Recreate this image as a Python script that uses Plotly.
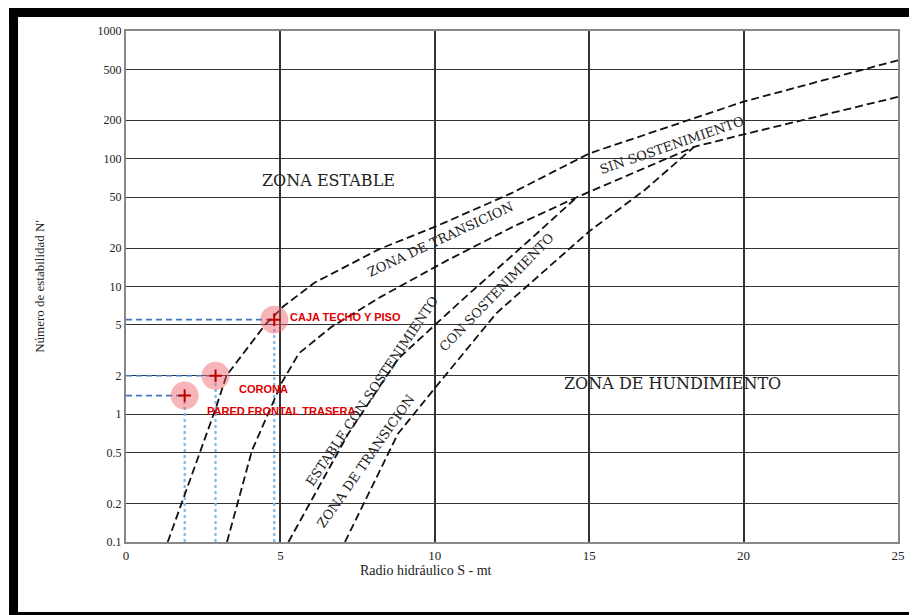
import math
import plotly.graph_objects as go

# ---- data ----
# boundary curves: hydraulic radius S (m) vs stability number N'
curve_a_x = [1.35, 2.9, 3.25, 4.5, 5.1, 6.1, 8.2, 10.1, 12.5, 15.0, 20.0, 25.0]
curve_a_y = [0.1, 1.1, 2.0, 5.0, 7.0, 10.7, 19.6, 30, 54, 110, 280, 590]

curve_b_x = [3.27, 4.08, 5.04, 5.6, 6.64, 8.25, 10.4, 12.55, 14.6, 18.4, 20.0, 25.0]
curve_b_y = [0.1, 0.52, 1.76, 3.0, 4.8, 8.3, 16, 29.5, 50, 124, 155, 305]

curve_c_x = [5.26, 7.19, 8.8, 10.9, 13.06, 14.6]
curve_c_y = [0.1, 0.7, 2.7, 7.9, 23, 50]

curve_d_x = [7.09, 8.8, 10.0, 12.0, 15.0, 16.8, 18.4]
curve_d_y = [0.1, 0.7, 1.6, 6.2, 27, 57, 124]

# evaluated excavation surfaces
point_names = ["CAJA TECHO Y PISO", "CORONA", "PARED FRONTAL TRASERA"]
point_x = [4.8, 2.9, 1.9]
point_y = [5.5, 2.0, 1.4]

y_ticks = [0.1, 0.2, 0.5, 1, 2, 5, 10, 20, 50, 100, 200, 500, 1000]
y_tick_text = ["0.1", "0.2", "0.5", "1", "2", "5", "10", "20", "50", "100", "200", "500", "1000"]
x_ticks = [0, 5, 10, 15, 20, 25]

SERIF = "Liberation Serif"
ZSERIF = "DejaVu Serif"

fig = go.Figure()

# reference dashed lines for each point
for px, py in zip(point_x, point_y):
    fig.add_trace(go.Scatter(x=[0, px], y=[py, py], mode="lines",
                             line=dict(color="#3f78c0", width=1.6, dash="6px,4px"),
                             hoverinfo="skip", showlegend=False))
    fig.add_trace(go.Scatter(x=[px, px], y=[0.1, py], mode="lines",
                             line=dict(color="#7fb8e0", width=2.2, dash="dot"),
                             hoverinfo="skip", showlegend=False))

# boundary curves
for cx, cy in [(curve_a_x, curve_a_y), (curve_b_x, curve_b_y),
               (curve_c_x, curve_c_y), (curve_d_x, curve_d_y)]:
    fig.add_trace(go.Scatter(x=cx, y=cy, mode="lines",
                             line=dict(color="#111111", width=1.8, dash="8px,4px"),
                             hoverinfo="skip", showlegend=False))

# points: pink halo + cross
fig.add_trace(go.Scatter(x=point_x, y=point_y, mode="markers",
                         marker=dict(size=28, color="rgba(240,90,100,0.45)", line=dict(width=0)),
                         hoverinfo="skip", showlegend=False))
fig.add_trace(go.Scatter(x=point_x, y=point_y, mode="markers",
                         marker=dict(size=9, symbol="cross-thin", line=dict(color="#c00000", width=2)),
                         text=point_names, hoverinfo="text", showlegend=False))

# point labels (annotation y on a log axis is given in log10 units)
label_pos = [(5.26, 5.8), (3.6, 1.58), (2.55, 1.06)]
for name, (lx, ly) in zip(point_names, label_pos):
    fig.add_annotation(x=lx, y=math.log10(ly), xref="x", yref="y", text="<b>" + name + "</b>",
                       showarrow=False, xanchor="left",
                       font=dict(family="Liberation Sans", size=11, color="#e00000"))

# zone labels
zone_labels = [
    ("ZONA ESTABLE", 6.55, 67, 0, 16),
    ("ZONA DE HUNDIMIENTO", 17.7, 1.73, 0, 16),
    ("ZONA DE TRANSICION", 10.17, 23.2, -25, 13),
    ("SIN SOSTENIMIENTO", 17.65, 128, -19, 13),
    ("ESTABLE CON SOSTENIMIENTO", 7.95, 1.52, -56, 13),
    ("ZONA DE TRANSICION", 7.75, 0.43, -55, 13),
    ("CON SOSTENIMIENTO", 12.0, 8.9, -46, 13),
]
for txt, lx, ly, ang, sz in zone_labels:
    fig.add_annotation(x=lx, y=math.log10(ly), xref="x", yref="y", text=txt, showarrow=False,
                       textangle=ang, font=dict(family=ZSERIF, size=sz, color="#222222"))

# figure geometry (page body adds an 8 px offset)
W, H = 909, 607
L, R, T, B = 118, 12, 23, 73
pw, ph = W - L - R, H - T - B

# x-axis title (placed left of centre, as in the original)
fig.add_annotation(x=(352 - L) / pw, y=(H - B - 572) / ph, xref="paper", yref="paper",
                   text="Radio hidráulico S - mt", showarrow=False,
                   font=dict(family=SERIF, size=14, color="#222222"))

# outer black frame (pixel coords inside the figure)
frame = [
    (0, 4.5, W, 4.5, 9),
    (4.5, 0, 4.5, H, 9),
    (0, 605.5, W, 605.5, 3),
]
for x0, y0, x1, y1, w in frame:
    fig.add_shape(type="line", xref="paper", yref="paper",
                  x0=(x0 - L) / pw, x1=(x1 - L) / pw,
                  y0=(H - B - y0) / ph, y1=(H - B - y1) / ph,
                  line=dict(color="black", width=w))

fig.update_layout(
    width=W, height=H,
    margin=dict(l=L, r=R, t=T, b=B),
    paper_bgcolor="white", plot_bgcolor="white",
    font=dict(family=SERIF, size=11, color="#222222"),
    xaxis=dict(range=[0, 25], tickvals=x_ticks, ticks="", showgrid=True,
               gridcolor="#333333", gridwidth=1.8, zeroline=False,
               showline=True, linecolor="#888888", linewidth=2, mirror=True,
               tickfont=dict(family=SERIF, size=13)),
    yaxis=dict(type="log", range=[-1, 3], tickvals=y_ticks, ticktext=y_tick_text,
               ticks="", showgrid=True, gridcolor="#333333", gridwidth=1.3, zeroline=False,
               showline=True, linecolor="#888888", linewidth=2, mirror=True,
               title=dict(text="Número de estabilidad N'", font=dict(family=SERIF, size=13), standoff=50),
               tickfont=dict(family=SERIF, size=12)),
)

fig.write_html("out.html")
